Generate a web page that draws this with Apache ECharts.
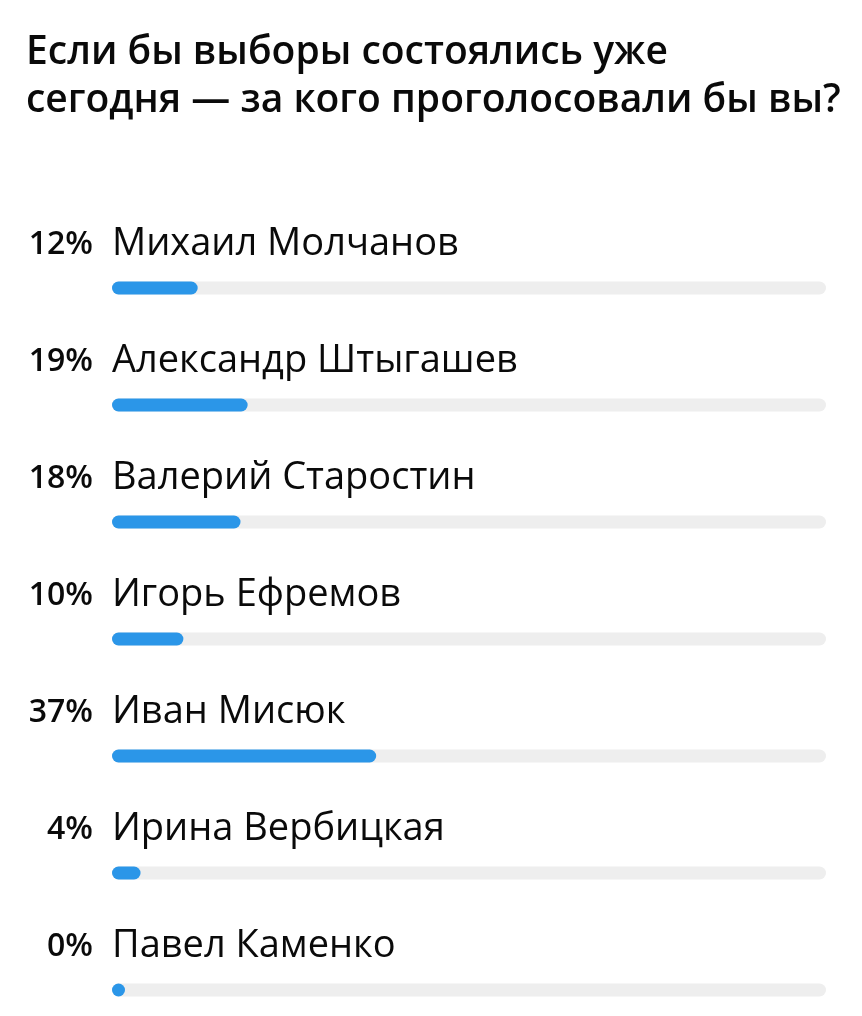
<!DOCTYPE html>
<html><head><meta charset="utf-8">
<script src="https://cdn.jsdelivr.net/npm/echarts@6/dist/echarts.min.js"></script>
<style>html,body{margin:0;padding:0;background:#fff}#c{width:862px;height:1016px}</style>
</head><body><div id="c"></div>
<script>
var titleText = 'Если бы выборы состоялись уже\nсегодня — за кого проголосовали бы вы?';
var candidates = ['Михаил Молчанов','Александр Штыгашев','Валерий Старостин','Игорь Ефремов','Иван Мисюк','Ирина Вербицкая','Павел Каменко'];
var percents = [12, 19, 18, 10, 37, 4, 0];
var trackFull = candidates.map(function(){ return 100; });

var FONT = '"Open Sans", Roboto, sans-serif';
var chart = echarts.init(document.getElementById('c'), null, {renderer:'canvas'});
chart.setOption({
  backgroundColor:'#ffffff',
  animation:false,
  title:{
    text:titleText, left:21, top:24,
    textStyle:{fontFamily:FONT, fontSize:39, fontWeight:600, color:'#0a0a0a', lineHeight:48}
  },
  grid:{left:112, width:714, top:288, height:702},
  xAxis:{type:'value', min:0, max:100, show:false},
  yAxis:{type:'category', data:candidates, inverse:true, show:false, boundaryGap:false},
  series:[
    {
      type:'bar', data:trackFull, barWidth:13, silent:true,
      itemStyle:{color:'#eeeeee', borderRadius:7},
      label:{show:true, position:[0,-37], verticalAlign:'middle', align:'left',
        fontFamily:FONT, fontSize:38, color:'#0a0a0a',
        formatter:function(p){ return candidates[p.dataIndex]; }}
    },
    {
      type:'bar', data:percents, barWidth:13, barGap:'-100%', barMinHeight:13, silent:true,
      itemStyle:{color:'#2b96e8', borderRadius:7},
      label:{show:true, position:[-19,-37], verticalAlign:'middle', align:'right',
        fontFamily:FONT, fontSize:32, fontWeight:600, color:'#0a0a0a',
        formatter:function(p){ return percents[p.dataIndex] + '%'; }}
    }
  ]
});
</script></body></html>
